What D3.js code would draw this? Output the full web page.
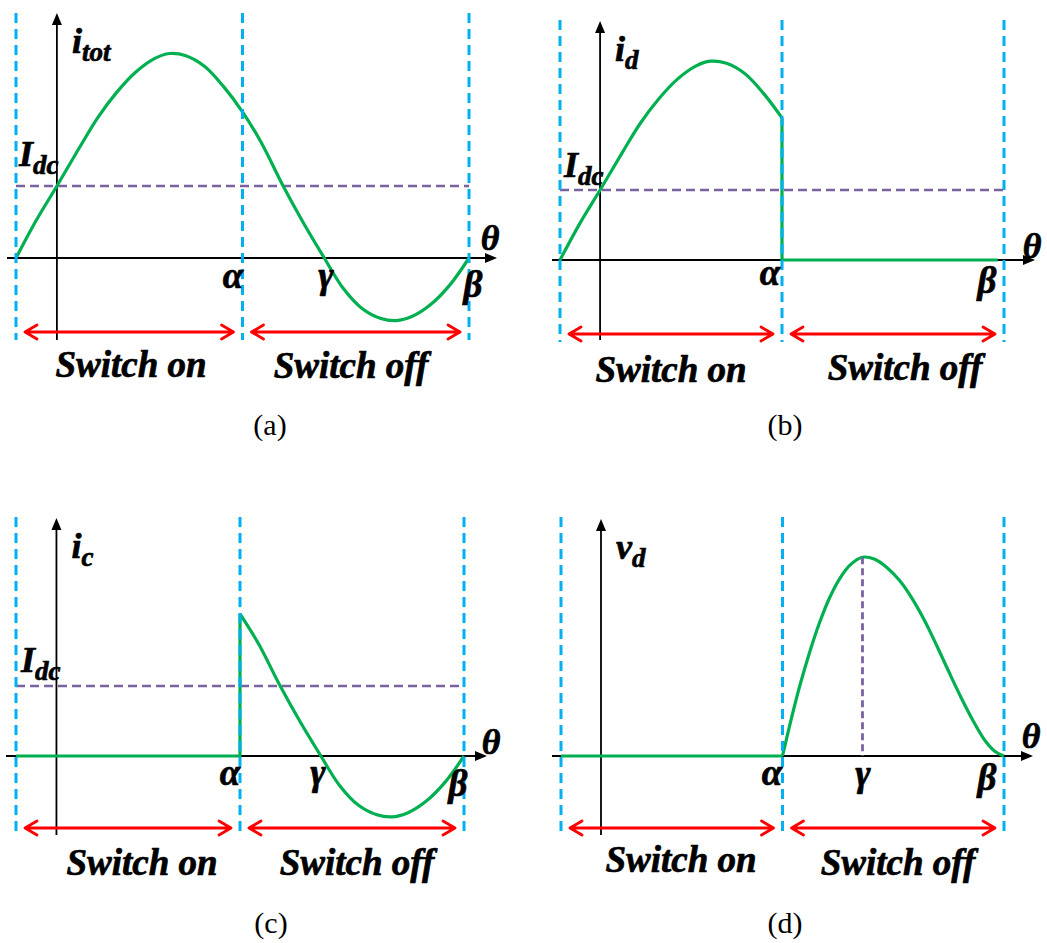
<!DOCTYPE html>
<html>
<head>
<meta charset="utf-8">
<script src="https://cdn.jsdelivr.net/npm/d3@7"></script>
<style>
  body { margin: 0; background: #fff; }
  text { font-family: "Liberation Serif", "Times New Roman", serif; }
</style>
</head>
<body>
<svg id="fig" width="1047" height="943"></svg>
<script>
// ---- waveform data: [theta in degrees, value in units of Idc] ----
const boundaries = [0, 180, 360];            // switching instants: start, alpha, beta
const markers = [
  { sym: "α", theta: 180 },
  { sym: "γ", theta: 245 },
  { sym: "β", theta: 360 }
];
const IDC = 1;
const THETA_ORIGIN = 32.5;                   // where the vertical axis crosses the theta axis

// total current through the switch branch
const iTot = [
  [0, 0], [16, 0.52], [32.5, 1.0], [50, 1.52], [65, 1.95], [80, 2.3], [95, 2.58],
  [110, 2.77], [122, 2.84], [135, 2.81], [150, 2.66], [165, 2.38], [180, 2.03],
  [195, 1.6], [212, 1.01], [228, 0.5], [245, 0], [260, -0.42], [275, -0.7],
  [290, -0.84], [302, -0.87], [315, -0.81], [330, -0.64], [345, -0.37], [360, 0]
];
// voltage across the switch while it is off
const vD = [
  [180, 0], [187, 0.52], [194, 1.0], [202, 1.48], [210, 1.9], [218, 2.25], [226, 2.52],
  [235, 2.73], [245, 2.84], [255, 2.81], [265, 2.69], [275, 2.51], [285, 2.26],
  [295, 1.95], [305, 1.59], [315, 1.21], [325, 0.84], [335, 0.50], [345, 0.21],
  [353, 0.06], [360, 0]
];
const iDOffEnd = 355;                        // end of the drawn zero segment of i_d

const phaseLabels = ["Switch on", "Switch off"];
const captions = ["(a)", "(b)", "(c)", "(d)"];

// ---- derived piecewise series ----
const alpha = boundaries[1];
const iAtAlpha = iTot.find(p => p[0] === alpha)[1];
const seriesTot = [{ pts: iTot, smooth: true }];
const seriesD = [
  { pts: iTot.filter(p => p[0] <= alpha), smooth: true },
  { pts: [[alpha, iAtAlpha], [alpha, 0], [iDOffEnd, 0]], smooth: false }
];
const seriesC = [
  { pts: [[boundaries[0], 0], [alpha, 0], [alpha, iAtAlpha]], smooth: false },
  { pts: iTot.filter(p => p[0] >= alpha), smooth: true }
];
const seriesV = [
  { pts: [[boundaries[0], 0], [alpha, 0]], smooth: false },
  { pts: vD, smooth: true }
];

// ---- panel layout ----
const panels = [
  { series: seriesTot, main: "i", sub: "tot", idc: true, gammaLine: false,
    ox: 16, ow: 453, zero: 258, unit: 72, top: 13, bottom: 340, axL: 7, axR: 497,
    yTop: 13, yBot: 340, arrowY: 332,
    thetaLbl: [490, 250], mk: { "α": [233, 288], "γ": [326, 288], "β": [473, 297] },
    idcLbl: [19, 166], on: [131, 377], off: [351, 378], cap: [270, 435] },
  { series: seriesD, main: "i", sub: "d", idc: true, gammaLine: false,
    ox: 560, ow: 444, zero: 260, unit: 70, top: 20, bottom: 342, axL: 552, axR: 1035,
    yTop: 21, yBot: 340, arrowY: 334,
    thetaLbl: [1032, 258], mk: { "α": [770, 285], "β": [987, 293] },
    idcLbl: [564, 177], on: [671, 382], off: [905, 380], cap: [785, 435] },
  { series: seriesC, main: "i", sub: "c", idc: true, gammaLine: false,
    ox: 16, ow: 448, zero: 756, unit: 70, top: 517, bottom: 837, axL: 6, axR: 487,
    yTop: 518, yBot: 835, arrowY: 828,
    thetaLbl: [491, 754], mk: { "α": [230, 785], "γ": [318, 785], "β": [458, 796] },
    idcLbl: [21, 672], on: [142, 875], off: [357, 875], cap: [271, 933] },
  { series: seriesV, main: "v", sub: "d", idc: false, gammaLine: true,
    ox: 561, ow: 443, zero: 756, unit: 70, top: 517, bottom: 835, axL: 552, axR: 1033,
    yTop: 519, yBot: 835, arrowY: 828,
    thetaLbl: [1031, 748], mk: { "α": [772, 785], "γ": [863, 786], "β": [987, 790] },
    idcLbl: null, on: [681, 872], off: [898, 875], cap: [785, 933] }
];

const C = { green: "#00b050", blue: "#00b0f0", purple: "#7a62a0", red: "#ff0000", black: "#000" };
const svg = d3.select("#fig");
svg.append("rect").attr("width", 1047).attr("height", 943).attr("fill", "#fff");

panels.forEach((p, k) => {
  const g = svg.append("g");
  const x = d3.scaleLinear().domain([0, 360]).range([p.ox, p.ox + p.ow]);
  const y = d3.scaleLinear().domain([0, 1]).range([p.zero, p.zero - p.unit]);
  const x0 = x(THETA_ORIGIN);

  // theta axis with arrow
  g.append("line").attr("x1", p.axL).attr("x2", p.axR - 8)
    .attr("y1", y(0)).attr("y2", y(0)).attr("stroke", C.black).attr("stroke-width", 1.8);
  g.append("path")
    .attr("d", `M${p.axR},${y(0)} L${p.axR - 12},${y(0) - 5} L${p.axR - 12},${y(0) + 5} Z`)
    .attr("fill", C.black);

  // vertical axis with arrow
  g.append("line").attr("x1", x0).attr("x2", x0)
    .attr("y1", p.yTop + 8).attr("y2", p.yBot).attr("stroke", C.black).attr("stroke-width", 1.8);
  g.append("path")
    .attr("d", `M${x0},${p.yTop} L${x0 - 5},${p.yTop + 12} L${x0 + 5},${p.yTop + 12} Z`)
    .attr("fill", C.black);

  // Idc reference level
  if (p.idc) {
    g.append("line").attr("x1", x(boundaries[0])).attr("x2", x(boundaries[2]))
      .attr("y1", y(IDC)).attr("y2", y(IDC))
      .attr("stroke", C.purple).attr("stroke-width", 2.6).attr("stroke-dasharray", "9,5");
  }

  // waveform
  const lineSmooth = d3.line().x(d => x(d[0])).y(d => y(d[1])).curve(d3.curveCatmullRom.alpha(0.5));
  const lineStraight = d3.line().x(d => x(d[0])).y(d => y(d[1]));
  p.series.forEach(s => {
    g.append("path").attr("d", (s.smooth ? lineSmooth : lineStraight)(s.pts))
      .attr("fill", "none").attr("stroke", C.green).attr("stroke-width", 3.2)
      .attr("stroke-linejoin", "round");
  });

  // peak marker of the switch voltage
  if (p.gammaLine) {
    const th = markers.find(m => m.sym === "γ").theta;
    const pk = vD.find(d => d[0] === th)[1];
    g.append("line").attr("x1", x(th)).attr("x2", x(th))
      .attr("y1", y(pk)).attr("y2", y(0))
      .attr("stroke", C.purple).attr("stroke-width", 2.8).attr("stroke-dasharray", "7,4");
  }

  // switching boundaries
  boundaries.forEach(b => {
    g.append("line").attr("x1", x(b)).attr("x2", x(b))
      .attr("y1", p.top).attr("y2", p.bottom)
      .attr("stroke", C.blue).attr("stroke-width", 3).attr("stroke-dasharray", "10,6");
  });

  // on / off interval arrows
  const ins = 9, hl = 12, hw = 7;
  [[boundaries[0], boundaries[1]], [boundaries[1], boundaries[2]]].forEach(([a, b]) => {
    const xa = x(a) + ins, xb = x(b) - ins, yy = p.arrowY;
    g.append("path")
      .attr("d", `M${xa},${yy} L${xb},${yy} M${xa + hl},${yy - hw} L${xa},${yy} L${xa + hl},${yy + hw}` +
                 ` M${xb - hl},${yy - hw} L${xb},${yy} L${xb - hl},${yy + hw}`)
      .attr("fill", "none").attr("stroke", C.red).attr("stroke-width", 2.8)
      .attr("stroke-linecap", "round").attr("stroke-linejoin", "round");
  });

  // texts (heavy bold italic symbols)
  const bi = sel => sel.attr("font-weight", "bold").attr("font-style", "italic")
    .attr("stroke", C.black).attr("stroke-width", 0.7).attr("stroke-linejoin", "round");

  const lab = g.append("text").attr("x", x0 + 15).attr("y", p.yTop + 40).call(bi);
  lab.append("tspan").attr("font-size", 36).text(p.main);
  lab.append("tspan").attr("font-size", 27).attr("dy", 8).text(p.sub);

  if (p.idcLbl) {
    const t = g.append("text").attr("x", p.idcLbl[0]).attr("y", p.idcLbl[1]).call(bi);
    t.append("tspan").attr("font-size", 36).text("I");
    t.append("tspan").attr("font-size", 27).attr("dy", 8).text("dc");
  }

  g.append("text").attr("x", p.thetaLbl[0]).attr("y", p.thetaLbl[1])
    .attr("text-anchor", "middle").attr("font-size", 36).call(bi).text("θ");

  markers.forEach(m => {
    const pos = p.mk[m.sym];
    if (!pos) return;
    g.append("text").attr("x", pos[0]).attr("y", pos[1])
      .attr("text-anchor", "middle").attr("font-size", 37).call(bi).text(m.sym);
  });

  [p.on, p.off].forEach((pos, j) => {
    g.append("text").attr("x", pos[0]).attr("y", pos[1])
      .attr("text-anchor", "middle").attr("font-size", 37).call(bi).text(phaseLabels[j]);
  });

  g.append("text").attr("x", p.cap[0]).attr("y", p.cap[1])
    .attr("text-anchor", "middle").attr("font-size", 30).text(captions[k]);
});
</script>
</body>
</html>
